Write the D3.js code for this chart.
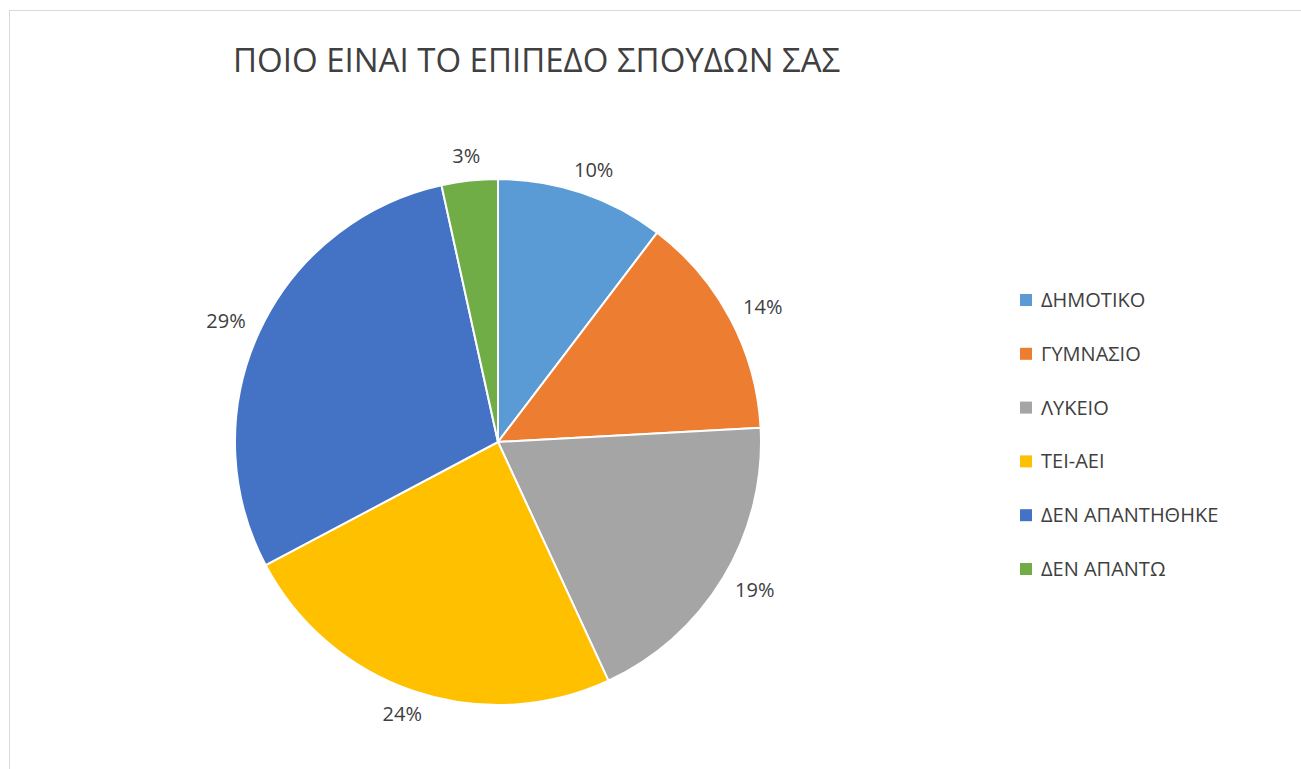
<!DOCTYPE html>
<html>
<head>
<meta charset="utf-8">
<script src="https://cdn.jsdelivr.net/npm/d3@7"></script>
<style>
  body { margin: 0; background: #fff; }
  text { font-family: "Open Sans", "Noto Sans", sans-serif; fill: #404040; }
</style>
</head>
<body>
<div id="chart"></div>
<script>
const TITLE = "ΠΟΙΟ ΕΙΝΑΙ ΤΟ ΕΠΙΠΕΔΟ ΣΠΟΥΔΩΝ ΣΑΣ"
const categories = ["ΔΗΜΟΤΙΚΟ", "ΓΥΜΝΑΣΙΟ", "ΛΥΚΕΙΟ", "ΤΕΙ-ΑΕΙ", "ΔΕΝ ΑΠΑΝΤΗΘΗΚΕ", "ΔΕΝ ΑΠΑΝΤΩ"]
const counts = [6, 8, 11, 14, 17, 2]
const colors = ["#5B9BD5", "#ED7D31", "#A5A5A5", "#FFC000", "#4472C4", "#70AD47"]

const WIDTH = 1301
const HEIGHT = 769
const CENTER = { X: 498, Y: 442 }
const RADIUS = 263
const LABEL_PAD = 17
const FONT = 20

const svg = d3.select("#chart")
              .append("svg")
              .attr("width", WIDTH)
              .attr("height", HEIGHT)

// chart area border (runs off the right and bottom edge)
svg.append("rect")
   .attr("x", 9.5)
   .attr("y", 10.5)
   .attr("width", WIDTH)
   .attr("height", HEIGHT)
   .attr("fill", "none")
   .attr("stroke", "#d9d9d9")

svg.append("text")
   .attr("x", 233)
   .attr("y", 72)
   .attr("font-size", 33)
   .text(TITLE)

const data = categories.map((c, i) => ({ name: c, value: counts[i], color: colors[i] }))
const total = d3.sum(counts)

const pie = d3.pie().sort(null).value(d => d.value)
const arc = d3.arc().innerRadius(0).outerRadius(RADIUS)
const anchorArc = d3.arc().innerRadius(RADIUS + LABEL_PAD).outerRadius(RADIUS + LABEL_PAD)

const g = svg.append("g")
             .attr("transform", `translate(${CENTER.X}, ${CENTER.Y})`)

const arcs = pie(data)

g.selectAll("path")
 .data(arcs)
 .enter()
 .append("path")
 .attr("d", arc)
 .attr("fill", d => d.data.color)
 .attr("stroke", "#fff")
 .attr("stroke-width", 2)

// outside-end labels: the text box sits just beyond the rim along the mid angle
g.selectAll(".label")
 .data(arcs)
 .enter()
 .append("text")
 .attr("class", "label")
 .attr("text-anchor", "middle")
 .attr("dy", "0.35em")
 .attr("font-size", FONT)
 .text(d => d3.format(".0%")(d.data.value / total))
 .attr("transform", function(d) {
   const [x, y] = anchorArc.centroid(d)
   const len = Math.hypot(x, y)
   const w = this.getComputedTextLength()
   const h = FONT * 0.75
   return `translate(${x + (x / len) * w / 2}, ${y + (y / len) * h / 2})`
 })

const legend = svg.append("g")
                  .attr("transform", "translate(1020, 300)")

const item = legend.selectAll("g")
                   .data(data)
                   .enter()
                   .append("g")
                   .attr("transform", (d, i) => `translate(0, ${i * 53.8})`)

item.append("rect")
    .attr("x", 0)
    .attr("y", -6)
    .attr("width", 12)
    .attr("height", 12)
    .attr("fill", d => d.color)

item.append("text")
    .attr("x", 21)
    .attr("dy", "0.35em")
    .attr("font-size", FONT)
    .text(d => d.name)
</script>
</body>
</html>
